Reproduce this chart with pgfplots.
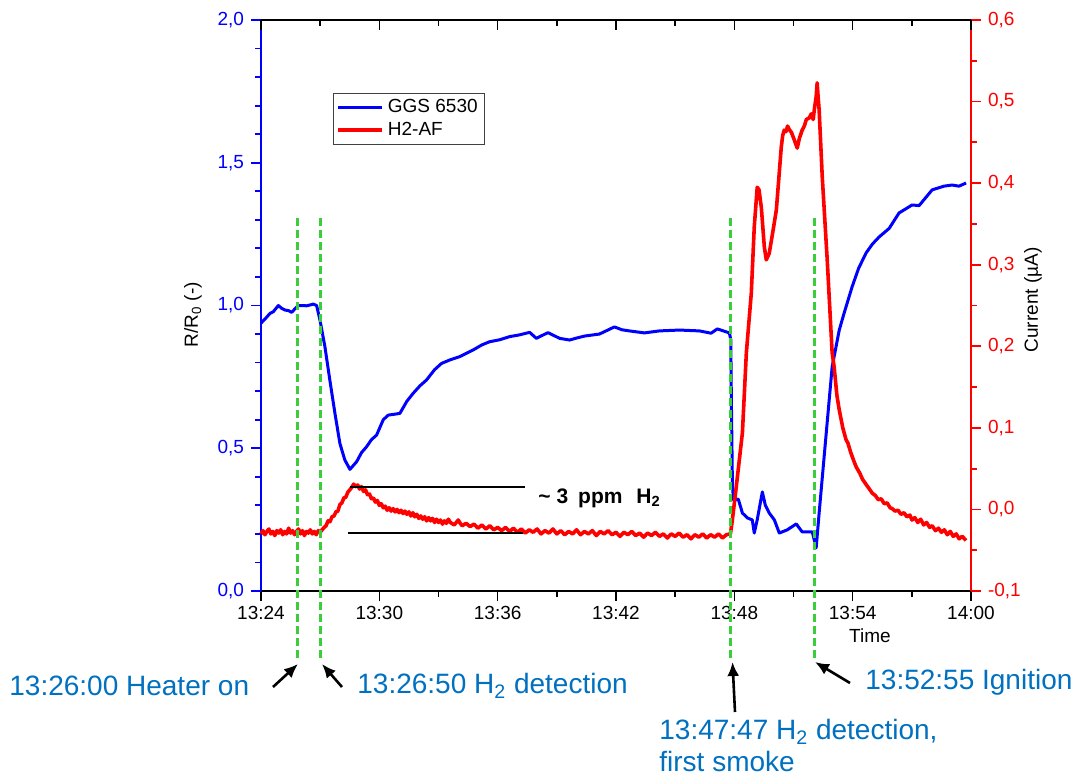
\documentclass[border=0pt]{standalone}
\usepackage{fontspec}
\setmainfont{Liberation Sans}
\usepackage{pgfplots}
\pgfplotsset{compat=1.18}
\usetikzlibrary{arrows.meta}

\definecolor{ggsblue}{RGB}{0,0,255}
\definecolor{afred}{RGB}{255,0,0}
\definecolor{evgreen}{RGB}{60,205,60}
\definecolor{annblue}{RGB}{0,112,192}

\pgfplotsset{
  base/.style={
    scale only axis, width=355pt, height=285.5pt,
    at={(0,0)}, anchor=south west,
    xmin=0, xmax=36,
    tick label style={font=\fontsize{9.5}{11}\selectfont},
    /pgf/number format/assume math mode=true,
  },
  yfmt/.style={
    yticklabel style={/pgf/number format/fixed, /pgf/number format/fixed zerofill,
      /pgf/number format/precision=1, /pgf/number format/use comma},
  },
}

\begin{document}
\begin{tikzpicture}
\useasboundingbox (-130.5pt,-95.5pt) rectangle (410.5pt,295.5pt);

% left axis: R/R0
\begin{axis}[base, yfmt,
  ymin=0, ymax=2,
  axis y line*=left, axis x line*=bottom,
  tick align=outside,
  xtick={0,6,...,36},
  xticklabels={13:24,13:30,13:36,13:42,13:48,13:54,14:00},
  minor x tick num=1,
  ytick={0,0.5,...,2},
  minor y tick num=4,
  major tick length=5pt, minor tick length=3pt,
  y axis line style={ggsblue, line width=0.9pt},
  x axis line style={black, line width=0.8pt},
  ytick style={ggsblue, line width=0.9pt},
  xtick style={black, line width=0.8pt},
  yticklabel style={text=ggsblue},
  xticklabel style={yshift=1pt},
]
\addplot[ggsblue, line width=1.5pt, line join=round] table {
0.00 0.938
0.30 0.960
0.45 0.972
0.62 0.978
0.88 1.000
1.05 0.990
1.22 0.984
1.40 0.982
1.55 0.976
1.89 1.000
2.31 0.999
2.50 1.002
2.65 1.005
2.82 1.000
2.99 0.949
3.24 0.856
3.49 0.739
3.75 0.622
4.00 0.517
4.25 0.459
4.51 0.426
4.85 0.453
5.10 0.485
5.35 0.505
5.60 0.530
5.86 0.546
6.20 0.600
6.45 0.616
7.04 0.622
7.40 0.665
7.71 0.692
8.05 0.718
8.39 0.739
8.80 0.775
9.15 0.797
9.60 0.810
10.08 0.821
10.75 0.844
11.20 0.862
11.59 0.873
12.10 0.880
12.61 0.891
13.10 0.897
13.62 0.906
13.96 0.885
14.55 0.905
15.14 0.885
15.65 0.879
16.00 0.886
16.41 0.893
17.16 0.900
17.92 0.925
18.30 0.915
18.68 0.911
19.44 0.904
20.20 0.911
21.22 0.914
22.23 0.911
22.82 0.903
23.14 0.918
23.75 0.904
23.82 0.880
23.85 0.669
23.90 0.389
23.95 0.319
24.05 0.319
24.20 0.322
24.41 0.273
24.66 0.256
24.91 0.249
25.01 0.203
25.16 0.249
25.42 0.347
25.57 0.301
25.77 0.273
26.03 0.249
26.28 0.203
26.53 0.210
26.68 0.214
27.14 0.235
27.44 0.207
27.95 0.207
28.15 0.151
28.30 0.273
28.66 0.553
28.96 0.785
29.32 0.914
29.57 0.974
29.97 1.065
30.30 1.130
30.68 1.184
31.00 1.215
31.34 1.240
31.85 1.270
32.35 1.324
33.01 1.352
33.37 1.350
34.03 1.405
34.63 1.418
35.04 1.422
35.39 1.418
35.75 1.429
};
\end{axis}

% right axis: current
\begin{axis}[base, yfmt,
  ymin=-0.1, ymax=0.6,
  axis y line*=right, axis x line=none,
  tick align=outside,
  ytick={-0.1,0,...,0.6},
  minor y tick num=1,
  major tick length=5pt, minor tick length=3pt,
  y axis line style={afred, line width=0.9pt},
  ytick style={afred, line width=0.9pt},
  yticklabel style={text=afred},
  clip=false,
  legend style={at={(0.101,0.872)}, anchor=north west,
    draw=black!75, line width=0.6pt, fill=white,
    font=\fontsize{9.5}{10.5}\selectfont,
    inner xsep=1.5pt, inner ysep=1pt, row sep=-1pt},
  legend cell align=left,
  legend image code/.code={\draw[#1] (0pt,0pt) -- (22pt,0pt);},
]
\addlegendimage{ggsblue, line width=1.5pt}
\addlegendentry{GGS 6530}
\addplot[afred, line width=1.8pt, line join=round] table {
0.00 -0.030
0.10 -0.026
0.20 -0.031
0.30 -0.027
0.40 -0.024
0.50 -0.030
0.60 -0.027
0.70 -0.032
0.80 -0.026
0.90 -0.029
1.00 -0.025
1.10 -0.031
1.20 -0.027
1.30 -0.030
1.40 -0.023
1.50 -0.029
1.60 -0.026
1.70 -0.031
1.80 -0.027
1.90 -0.024
2.00 -0.030
2.10 -0.026
2.20 -0.032
2.30 -0.027
2.40 -0.029
2.50 -0.025
2.60 -0.030
2.70 -0.027
2.80 -0.031
2.90 -0.026
3.00 -0.028
3.10 -0.025
3.20 -0.022
3.30 -0.020
3.40 -0.014
3.50 -0.015
3.60 -0.009
3.70 -0.008
3.80 -0.003
3.90 -0.002
4.00 0.006
4.10 0.008
4.20 0.014
4.30 0.015
4.40 0.021
4.50 0.024
4.60 0.027
4.70 0.031
4.80 0.028
4.90 0.030
5.00 0.025
5.10 0.028
5.20 0.022
5.30 0.024
5.40 0.018
5.50 0.019
5.60 0.013
5.70 0.014
5.80 0.009
5.90 0.011
6.00 0.005
6.10 0.007
6.20 0.002
6.30 0.004
6.40 -0.001
6.50 0.002
6.60 -0.002
6.70 0.001
6.80 -0.003
6.90 0.000
7.00 -0.004
7.10 -0.001
7.20 -0.005
7.30 -0.002
7.40 -0.006
7.50 -0.003
7.60 -0.008
7.70 -0.004
7.80 -0.009
7.90 -0.006
8.00 -0.011
8.10 -0.008
8.20 -0.012
8.30 -0.009
8.40 -0.014
8.50 -0.010
8.60 -0.014
8.70 -0.011
8.80 -0.016
8.90 -0.012
9.00 -0.016
9.10 -0.013
9.20 -0.018
9.30 -0.014
9.40 -0.017
9.50 -0.012
9.60 -0.016
9.80 -0.019
10.00 -0.013
10.10 -0.017
10.20 -0.020
10.40 -0.017
10.60 -0.021
10.80 -0.018
11.00 -0.023
11.20 -0.019
11.40 -0.024
11.60 -0.020
11.80 -0.025
12.00 -0.022
12.20 -0.026
12.40 -0.022
12.60 -0.027
12.80 -0.023
13.00 -0.028
13.20 -0.024
13.40 -0.029
13.60 -0.025
13.80 -0.028
14.00 -0.024
14.20 -0.030
14.40 -0.026
14.60 -0.029
14.80 -0.024
15.00 -0.030
15.20 -0.026
15.40 -0.031
15.60 -0.027
15.80 -0.030
16.00 -0.025
16.20 -0.031
16.40 -0.027
16.60 -0.030
16.80 -0.026
17.00 -0.032
17.20 -0.027
17.40 -0.030
17.60 -0.026
17.80 -0.031
18.00 -0.028
18.20 -0.033
18.40 -0.028
18.60 -0.031
18.80 -0.027
19.00 -0.032
19.20 -0.029
19.40 -0.034
19.60 -0.029
19.80 -0.032
20.00 -0.028
20.20 -0.033
20.40 -0.030
20.60 -0.035
20.80 -0.030
21.00 -0.033
21.20 -0.029
21.40 -0.034
21.60 -0.031
21.80 -0.036
22.00 -0.031
22.20 -0.034
22.40 -0.030
22.60 -0.035
22.80 -0.031
23.00 -0.034
23.20 -0.030
23.40 -0.035
23.60 -0.031
23.80 -0.030
23.90 -0.013
24.10 0.028
24.41 0.094
24.61 0.192
24.86 0.265
25.01 0.346
25.16 0.395
25.25 0.392
25.37 0.370
25.52 0.322
25.62 0.306
25.77 0.314
25.95 0.340
26.13 0.367
26.38 0.444
26.45 0.458
26.53 0.465
26.62 0.463
26.70 0.470
26.78 0.466
26.90 0.462
27.04 0.453
27.19 0.443
27.30 0.455
27.44 0.465
27.55 0.470
27.65 0.478
27.80 0.480
27.90 0.485
28.00 0.478
28.05 0.489
28.15 0.506
28.20 0.523
28.25 0.505
28.30 0.490
28.46 0.407
28.71 0.306
28.96 0.192
29.06 0.175
29.20 0.140
29.32 0.122
29.50 0.100
29.67 0.085
29.75 0.082
29.90 0.070
30.05 0.060
30.18 0.052
30.35 0.045
30.50 0.037
30.70 0.030
30.85 0.025
30.99 0.020
31.15 0.017
31.30 0.012
31.45 0.013
31.60 0.007
31.75 0.008
31.90 0.002
32.00 0.001
32.15 -0.002
32.30 -0.001
32.45 -0.006
32.60 -0.004
32.75 -0.009
32.90 -0.007
33.01 -0.013
33.15 -0.010
33.30 -0.016
33.45 -0.012
33.60 -0.019
33.75 -0.016
33.90 -0.022
34.03 -0.020
34.20 -0.026
34.35 -0.023
34.50 -0.028
34.65 -0.025
34.80 -0.031
34.95 -0.027
35.10 -0.033
35.25 -0.030
35.40 -0.036
35.55 -0.033
35.75 -0.038
};
\addlegendentry{H2-AF}
% ~3 ppm guide lines
\draw[black, line width=0.8pt] (axis cs:4.51,0.0275) -- (axis cs:13.37,0.0275);
\draw[black, line width=0.8pt] (axis cs:4.41,-0.0289) -- (axis cs:13.27,-0.0289);
% event markers
\draw[evgreen, line width=1.5pt, dash pattern=on 4pt off 2pt] (axis cs:1.87,0.357) -- (axis cs:1.87,-0.187);
\draw[evgreen, line width=1.5pt, dash pattern=on 4pt off 2pt] (axis cs:3.04,0.357) -- (axis cs:3.04,-0.187);
\draw[evgreen, line width=1.5pt, dash pattern=on 4pt off 2pt] (axis cs:23.80,0.357) -- (axis cs:23.80,-0.187);
\draw[evgreen, line width=1.5pt, dash pattern=on 4pt off 2pt] (axis cs:28.05,0.357) -- (axis cs:28.05,-0.187);
\end{axis}

% top frame line
\begin{axis}[base,
  ymin=0, ymax=1,
  axis x line*=top, axis y line=none,
  tick align=inside,
  xtick={0,6,...,36}, xticklabels={},
  minor x tick num=1,
  major tick length=5pt, minor tick length=3pt,
  x axis line style={black, line width=0.8pt},
  xtick style={black, line width=0.8pt},
]
\end{axis}

% labels and annotations, in pixel units of the reference
\begin{scope}[x=0.5pt, y=-0.5pt, shift={(-130.5pt,295.5pt)}]
\node[rotate=90, font=\fontsize{9.5}{11}\selectfont] at (193,315) {R/R\textsubscript{0} (-)};
\node[rotate=90, font=\fontsize{9.5}{11}\selectfont] at (1033,300) {Current (µA)};
\node[font=\fontsize{9.5}{11}\selectfont] at (870,636) {Time};
\node[anchor=west, font=\bfseries\fontsize{10.5}{12}\selectfont, inner sep=0pt] at (538,498)
  {\textasciitilde\hspace{3pt}3\hspace{2pt} ppm\hspace{4pt} H\textsubscript{2}};

\begin{scope}[annblue, font=\fontsize{14}{16}\selectfont]
\node[anchor=west, inner sep=0pt] at (9,686) {13:26:00 Heater on};
\node[anchor=west, inner sep=0pt] at (357,686) {13:26:50 H\textsubscript{2} detection};
\node[anchor=north west, align=left, inner sep=0pt] at (659,719) {13:47:47 H\textsubscript{2} detection,\\first smoke};
\node[anchor=west, inner sep=0pt] at (865,682) {13:52:55 Ignition};
\end{scope}

\begin{scope}[black, line width=1.3pt, -{Latex[length=7pt,width=6pt]}]
\draw (273,687) -- (298,664);
\draw (342,687) -- (322,664);
\draw (735,712) -- (732.5,662);
\draw (850,683) -- (815,662);
\end{scope}
\end{scope}
\end{tikzpicture}
\end{document}
